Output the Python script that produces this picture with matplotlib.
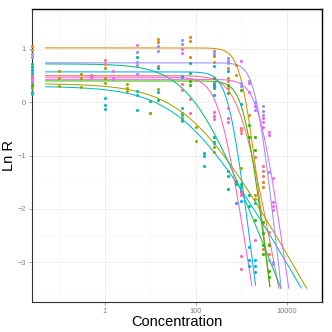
''' Dose response fits, Ln R against concentration '''

import matplotlib
matplotlib.use('Agg')
import matplotlib.pyplot as ppl
from matplotlib.ticker import NullFormatter
import numpy as np

DPI = 100
ppl.rcParams['font.family'] = ['Liberation Sans', 'DejaVu Sans']

# group colours (ggplot hue order)
colours = ['#F8766D', '#D89000', '#A3A500', '#39B600', '#00BF7D',
           '#00BFC4', '#00B0F6', '#9590FF', '#E76BF3', '#FF62BC']

# fitted curve parameters per group: plateau, slope, EC50
plateau = [0.50, 1.02, 0.35, 0.40, 0.72, 0.30, 0.57, 0.74, 0.43, 0.47]
slope = [2.0, 3.2, 0.66, 3.0, 0.95, 0.65, 3.0, 3.3, 2.6, 2.4]
ec50 = [910, 1047, 83, 1170, 89, 63, 540, 2090, 2440, 335]

# observations, one list pair per group
red_conc = [0.025, 0.025, 0.5, 0.5, 1, 1, 15, 50, 50, 500, 500,
            1000, 1000, 1000, 2000, 3000, 3000, 3000, 4000, 4000, 4000]
red_lnr = [0.53, 0.49, 0.51, 0.47, 0.79, 0.72, 0.68, 0.34, 0.23, 0.39, 0.26,
           -0.49, -0.58, -0.52, -1.03, -1.20, -1.30, -1.39, -2.43, -2.66, -2.85]

orange_conc = [0.025, 0.025, 15, 15, 75, 75, 75, 250, 250, 250, 500, 500,
               750, 750, 1500, 2000, 2000, 3000, 3000, 3000]
orange_lnr = [1.06, 0.98, 1.19, 1.13, 1.22, 1.14, 0.85, 0.97, 0.86, 0.75, 0.64,
              0.45, 0.70, 0.52, -0.24, -1.75, -1.81, -1.50, -1.60, -2.75]

olive_conc = [0.025, 0.025, 0.1, 0.1, 0.1, 0.3, 0.3, 0.3, 1, 1, 1, 3, 3, 3,
              10, 10, 15, 50, 50, 50, 100, 100, 250, 250, 250, 1000]
olive_lnr = [0.30, 0.26, 0.59, 0.46, 0.31, 0.53, 0.46, 0.29, 0.65, 0.46, 0.37,
             0.34, 0.26, 0.22, -0.20, -0.21, 0.25, -0.20, -0.30, -0.35, -0.47,
             -0.73, -0.77, -0.84, -0.93, -1.24]

green_conc = [0.025, 0.025, 75, 75, 250, 250, 250, 500, 500, 1000, 1500, 1500,
              2000, 2000, 2000, 3000, 3000, 3000, 3000, 4000, 4000, 4000]
green_lnr = [0.38, 0.33, 0.40, 0.33, 0.45, 0.33, 0.26, 0.17, 0.33, 0.23, -0.43,
             -0.65, -0.65, -0.90, -2.22, -2.24, -2.45, -2.68, -2.85, -2.68,
             -3.16, -3.28]

teal_conc = [0.025, 0.025, 5, 10, 15, 15, 75, 75, 250, 250, 500, 500, 500,
             750, 750, 1000, 1000, 1500, 1500]
teal_lnr = [0.72, 0.66, 0.85, 0.02, 0.64, 0.04, 0.74, 0.55, -0.66, -0.74,
            -1.30, -1.39, -1.63, -1.48, -1.54, -1.54, -1.67, -1.75, -1.94]

cyan_conc = [0.025, 0.025, 1, 1, 1, 5, 5, 5, 15, 50, 50, 50, 150, 150, 150,
             250, 250, 1000, 2000]
cyan_lnr = [0.20, 0.16, 0.08, -0.05, -0.13, 0.21, 0.14, -0.15, 0.19, -0.10,
            -0.24, -0.33, -0.95, -1.00, -1.20, -0.65, -0.77, -1.60, -1.90]

blue_conc = [0.025, 0.025, 50, 50, 250, 250, 250, 250, 500, 1000, 750, 1000,
             1500, 1500, 1500, 2000, 2000, 2000]
blue_lnr = [0.60, 0.55, 0.48, 0.50, 0.68, 0.36, 0.28, 0.14, 0.58, -0.04, -1.90,
            -1.86, -2.72, -2.96, -3.07, -2.96, -3.07, -3.18]

purple_conc = [0.025, 0.025, 5, 5, 5, 15, 15, 50, 50, 250, 250, 500, 500, 500,
               1000, 1000, 1500, 1500, 2000, 2000, 2000, 3000, 3000, 3000,
               4000, 4000, 5000, 5000]
purple_lnr = [0.90, 0.85, 0.95, 0.76, 0.69, 1.05, 0.97, 1.16, 1.09, 0.97, 0.91,
              0.83, 0.78, 0.74, 0.36, 0.31, 0.39, 0.36, 0.01, -0.08, -0.15,
              -0.08, -0.16, -0.24, -1.31, -2.96, -3.00, -3.03]

magenta_conc = [0.025, 0.025, 1.5, 1.5, 1.5, 5, 5, 50, 50, 1000, 1500, 1500,
                2000, 3000, 3000, 3000, 4000, 4000, 5000, 5000, 5000, 5000]
magenta_lnr = [0.43, 0.40, 0.59, 0.46, 0.43, 1.08, 0.53, 1.00, 0.92, 0.78,
               0.36, 0.20, -0.08, -0.30, -0.38, -0.46, -0.55, -0.62, -1.43,
               -1.88, -1.95, -2.03]

pink_conc = [0.025, 0.5, 75, 75, 250, 250, 250, 500, 500, 500, 1000, 1000,
             1000, 1000, 2000]
pink_lnr = [0.47, 0.50, 0.06, -0.21, -0.18, -0.25, -0.32, -0.11, -0.30, -0.37,
            -1.69, -1.75, -2.88, -3.13, -2.58]

point_conc = [red_conc, orange_conc, olive_conc, green_conc, teal_conc,
              cyan_conc, blue_conc, purple_conc, magenta_conc, pink_conc]
point_lnr = [red_lnr, orange_lnr, olive_lnr, green_lnr, teal_lnr,
             cyan_lnr, blue_lnr, purple_lnr, magenta_lnr, pink_lnr]


fig = ppl.figure(figsize=(3.32, 3.32), dpi=DPI)
ax = fig.add_axes([32/332, 30/332, 290/332, 293/332])

xfit = np.logspace(np.log10(0.05), 4.6, 600)
for i, col in enumerate(colours):
    ax.scatter(point_conc[i], point_lnr[i], s=5, color=col, lw=0, zorder=3,
               clip_on=False)
    yfit = plateau[i] - np.log1p((xfit / ec50[i]) ** slope[i])
    keep = yfit >= -3.5
    ax.plot(xfit[keep], yfit[keep], color=col, lw=0.75, zorder=2)

ax.set_xscale('log')
ax.set_xlim(10 ** -1.6, 10 ** 4.77)
ax.set_ylim(-3.75, 1.75)

ax.set_xticks([1, 100, 10000])
ax.set_xticklabels(['1', '100', '10000'])
ax.set_xticks([0.1, 10, 1000], minor=True)
ax.xaxis.set_minor_formatter(NullFormatter())
ax.set_yticks([-3, -2, -1, 0, 1])
ax.set_yticks([-3.5, -2.5, -1.5, -0.5, 0.5, 1.5], minor=True)

ax.grid(which='major', color='#EBEBEB', lw=0.6)
ax.grid(which='minor', color='#F5F5F5', lw=0.4)
ax.set_axisbelow(True)

ax.tick_params(which='major', labelsize=5.3, colors='#7F7F7F', length=2.5,
               width=0.5, pad=2)
ax.tick_params(which='minor', length=0)
for side in ['left', 'bottom']:
    ax.spines[side].set_color('#333333')
    ax.spines[side].set_linewidth(0.8)
for side in ['top', 'right']:
    ax.spines[side].set_color('black')
    ax.spines[side].set_linewidth(1.0)

ax.set_xlabel('Concentration', fontsize=10.5)
ax.set_ylabel('Ln R', fontsize=10.5)
ax.xaxis.set_label_coords(0.5, -0.068)
ax.yaxis.set_label_coords(-0.078, 0.5)
ax.xaxis.label.set_va('center')
ax.yaxis.label.set_va('center')

fig.savefig('out.png', dpi=DPI)
